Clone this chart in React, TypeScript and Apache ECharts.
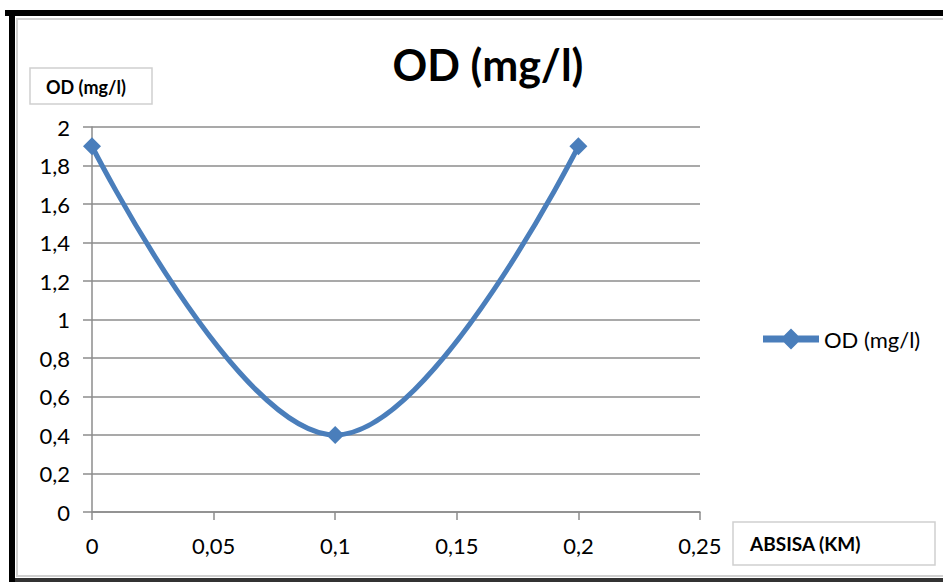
import React, { useEffect, useRef } from "react";
import * as echarts from "echarts";

const seriesName = "OD (mg/l)";
const xValues = [0, 0.1, 0.2];
const odValues = [1.9, 0.4, 1.9];
const titleText = "OD (mg/l)";
const yAxisTitle = "OD (mg/l)";
const xAxisTitle = "ABSISA (KM)";

const FONT = "Lato, 'Open Sans', sans-serif";
const fmt = (v: number) => String(Math.round(v * 1000) / 1000).replace(".", ",");

export default function App() {
  const ref = useRef<HTMLDivElement>(null);
  useEffect(() => {
    if (!ref.current) return;
    const chart = echarts.init(ref.current, undefined, { renderer: "svg" });
    chart.setOption({
      animation: false,
      backgroundColor: "#ffffff",
      title: {
        text: titleText,
        left: 483,
        top: 38,
        textAlign: "center",
        textStyle: { fontFamily: FONT, fontSize: 43, fontWeight: "bold", color: "#000" },
      },
      legend: {
        data: [{ name: seriesName, icon: "path://M0,5 L3,5 L4,4 L5,5 L8,5 L8,6 L5,6 L4,7 L3,6 L0,6Z" }],
        left: 758,
        top: 323,
        itemWidth: 56,
        itemHeight: 24,
        itemGap: 3,
        textStyle: { fontFamily: FONT, fontSize: 22, color: "#000" },
      },
      grid: { left: 92, right: 243, top: 127, bottom: 70, containLabel: false },
      xAxis: {
        type: "value",
        min: 0,
        max: 0.25,
        interval: 0.05,
        axisLine: { show: true, lineStyle: { color: "#8c8c8c", width: 1.5 } },
        axisTick: { show: true, length: 8, lineStyle: { color: "#8c8c8c", width: 1.5 } },
        splitLine: { show: false },
        axisLabel: { formatter: fmt, fontFamily: FONT, fontSize: 22, color: "#000", margin: 22 },
      },
      yAxis: {
        type: "value",
        min: 0,
        max: 2,
        interval: 0.2,
        axisLine: { show: true, lineStyle: { color: "#8c8c8c", width: 1.5 } },
        axisTick: { show: true, length: 9, lineStyle: { color: "#8c8c8c", width: 1.5 } },
        splitLine: { show: true, lineStyle: { color: "#8c8c8c", width: 1.5 } },
        axisLabel: { formatter: fmt, fontFamily: FONT, fontSize: 22, color: "#000", margin: 22 },
      },
      series: [
        {
          name: seriesName,
          type: "line",
          data: xValues.map((x, i) => [x, odValues[i]]),
          smooth: 0.4,
          symbol: "diamond",
          symbolSize: 18,
          lineStyle: { color: "#4a7ebb", width: 5 },
          itemStyle: { color: "#4a7ebb" },
        },
      ],
      graphic: [
        { type: "rect", shape: { x: 17, y: 19, width: 940, height: 557 }, style: { fill: "none", stroke: "#d0d0d0", lineWidth: 2 }, z: 0 },
        { type: "rect", shape: { x: 5, y: 10, width: 940, height: 6 }, style: { fill: "#000" } },
        { type: "rect", shape: { x: 9, y: 10, width: 6, height: 572 }, style: { fill: "#000" } },
        { type: "rect", shape: { x: 15, y: 578, width: 930, height: 4 }, style: { fill: "#333" } },
        { type: "rect", shape: { x: 30, y: 68, width: 122, height: 36 }, style: { fill: "#fff", stroke: "#d0d0d0", lineWidth: 1.5 } },
        { type: "text", x: 46, y: 87, style: { text: yAxisTitle, fontFamily: FONT, fontSize: 18, fontWeight: "bold", fill: "#000", verticalAlign: "middle" } },
        { type: "rect", shape: { x: 733, y: 522, width: 202, height: 43 }, style: { fill: "#fff", stroke: "#d0d0d0", lineWidth: 1.5 } },
        { type: "text", x: 750, y: 543, style: { text: xAxisTitle, fontFamily: FONT, fontSize: 19, fontWeight: "bold", fill: "#000", verticalAlign: "middle" } },
      ],
    });
    return () => chart.dispose();
  }, []);
  return <div ref={ref} style={{ position: "absolute", left: 0, top: 0, width: 943, height: 582 }} />;
}
